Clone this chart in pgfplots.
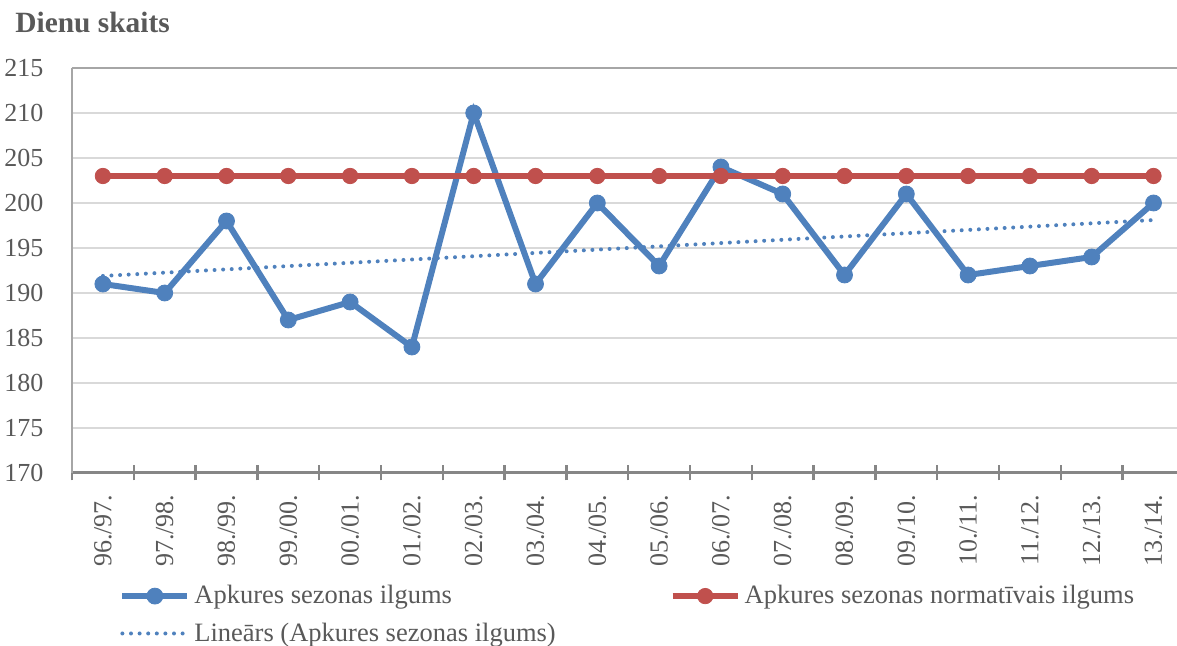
\documentclass[border=0pt]{standalone}
\usepackage{fontspec}
\setmainfont{Liberation Serif}
\usepackage{pgfplots}
\pgfplotsset{compat=1.18}
\definecolor{cblue}{RGB}{79,129,189}
\definecolor{cred}{RGB}{192,80,77}
\definecolor{ctext}{RGB}{89,89,89}
\definecolor{cgrid}{RGB}{217,217,217}
\definecolor{caxis}{RGB}{134,134,134}
\definecolor{cyaxis}{RGB}{166,166,166}
\begin{document}
\begin{tikzpicture}
\begin{axis}[
  name=ax,
  scale only axis, width=552.5pt, height=202.5pt,
  xmin=-0.5, xmax=17.38, ymin=170, ymax=215,
  axis x line*=bottom, axis y line*=left,
  x axis line style={caxis, line width=1.5pt, -},
  y axis line style={cyaxis, line width=1pt, -},
  ytick={170,175,...,215},
  ymajorgrids, grid style={cgrid, line width=1pt},
  ytick style={draw=none},
  xtick={0,...,17},
  xticklabels={96./97.,97./98.,98./99.,99./00.,00./01.,01./02.,02./03.,03./04.,04./05.,05./06.,06./07.,07./08.,08./09.,09./10.,10./11.,11./12.,12./13.,13./14.},
  major x tick style={draw=none},
  minor xtick={-0.5,0.5,...,16.5},
  minor x tick style={caxis, line width=1.2pt},
  minor tick length=7.5pt,
  tick align=center,
  tick label style={font=\fontsize{13}{15}\selectfont, text=ctext, inner sep=0pt},
  /pgf/number format/assume math mode=true,
  xticklabel style={rotate=90, anchor=east},
  xticklabel shift=8.5pt,
  yticklabel shift=12pt,
  clip=false,
  legend style={at={(0,0)}, anchor=north west, xshift=20.5pt, yshift=-52pt,
    draw=none, fill=none, font=\fontsize{13.25}{15}\selectfont, text=ctext,
    legend columns=2, row sep=4pt,
    /tikz/every even column/.append style={column sep=55pt}},
  legend cell align=left,
  legend image code/.code={\draw[mark repeat=2, mark phase=2, #1] plot coordinates {(0pt,0pt) (16.25pt,0pt) (32.5pt,0pt)};},
]
\draw[cyaxis, line width=1pt] (rel axis cs:0,1) -- (rel axis cs:1,1);
\addplot[cblue, line width=3pt, mark=*, mark size=4pt, mark options={solid, line width=0.4pt}] coordinates {
(0,191) (1,190) (2,198) (3,187) (4,189) (5,184) (6,210) (7,191) (8,200)
(9,193) (10,204) (11,201) (12,192) (13,201) (14,192) (15,193) (16,194) (17,200)};
\addlegendentry{Apkures sezonas ilgums}
\addplot[cred, line width=3pt, mark=*, mark size=3.85pt, mark options={solid, line width=0.4pt}] coordinates {
(0,203) (1,203) (2,203) (3,203) (4,203) (5,203) (6,203) (7,203) (8,203)
(9,203) (10,203) (11,203) (12,203) (13,203) (14,203) (15,203) (16,203) (17,203)};
\addlegendentry{Apkures sezonas normatīvais ilgums}
\addplot[cblue, line width=2pt, line cap=round, dash pattern=on 0pt off 4.3pt] coordinates {
(0,191.895) (17,198.105)};
\addlegendentry{Lineārs (Apkures sezonas ilgums)}
\end{axis}
\node[anchor=base west, font=\bfseries\fontsize{14.7}{17}\selectfont, text=ctext, inner sep=0pt]
  at ([xshift=-28.5pt, yshift=17.5pt]ax.north west) {Dienu skaits};
\pgfresetboundingbox
\path[use as bounding box] ([xshift=-36pt, yshift=-86.5pt]ax.south west) rectangle ([yshift=34pt]ax.north east);
\end{tikzpicture}
\end{document}
